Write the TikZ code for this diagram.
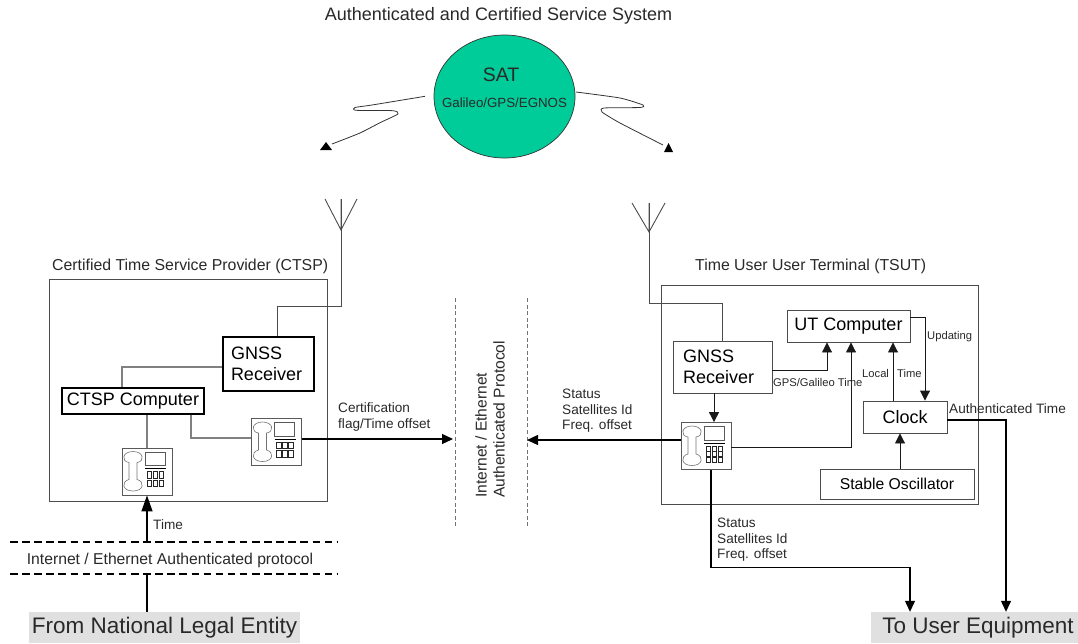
\documentclass[tikz,border=0pt]{standalone}
\usepackage{fontspec}
\setmainfont{Liberation Sans}
\usetikzlibrary{arrows.meta,shapes.geometric}
\definecolor{satgreen}{HTML}{00CC99}
\definecolor{ink}{gray}{0.16}
\tikzset{x=1pt,y=-1pt,
 lbl/.style={inner sep=0pt,font=\fontsize{13.6}{15.4}\selectfont,text=ink,align=left},
 small/.style={inner sep=0pt,font=\fontsize{11.2}{13}\selectfont,text=ink,align=left},
 head/.style={inner sep=0pt,font=\fontsize{15.85}{19}\selectfont,text=ink},
 boxtext/.style={font=\fontsize{18}{21.5}\selectfont,text=black},
 frame/.style={draw=black!70,line width=1pt,inner sep=0pt},
 boxthin/.style={draw=black!70,line width=0.9pt,inner sep=0pt,boxtext},
 boxthick/.style={draw=black,line width=1.5pt,inner sep=0pt,boxtext},
 phonebox/.style={draw=black!65,line width=0.8pt,inner sep=0pt,minimum width=50pt,minimum height=47pt},
 wire/.style={draw=black!70,line width=0.9pt},
 gwire/.style={draw=black!50,line width=1.1pt},
 flow/.style={draw=black,line width=1.2pt,-{Triangle[length=11pt,width=10pt]}},
 bigflow/.style={draw=black,line width=1.2pt,-{Triangle[length=16pt,width=11pt]}},
 thinflow/.style={draw=black!90,line width=0.9pt,-{Triangle[length=10pt,width=10pt]}},
 solidline/.style={draw=black,line width=1.2pt},
 greybar/.style={fill=black!12,inner sep=0pt,minimum height=31pt,font=\fontsize{22.5}{25}\selectfont,text=ink},
 protodash/.style={draw=black!55,line width=1pt,dash pattern=on 4pt off 2.6pt},
 netdash/.style={draw=black,line width=1.2pt,dash pattern=on 7.5pt off 4.6pt},
 air/.style={draw=black!80,line width=0.8pt}
}
\newcommand{\phoneart}[3]{%
 \begin{scope}[shift={(#1.center)}]
  \draw[black!55,line width=0.6pt] (-14,-20) .. controls (-25,-20) and (-26,-10) .. (-18,-9)
    -- (-18,8) .. controls (-26,10) and (-25,19.5) .. (-14,19.5)
    .. controls (-3,19.5) and (-2,10) .. (-10,8) -- (-10,-9) .. controls (-2,-10) and (-3,-20) .. (-14,-20) -- cycle;
  \draw[black!65,line width=0.6pt] (-2,-19.5) rectangle (18,-6);
  \draw[black,line width=1pt] (-2,-3) -- (19,-3);
  \foreach \cx in {0,6,12}{\foreach \cy in {#2}{\draw[black!85,line width=0.55pt] (\cx,\cy) rectangle ++(4.7,#3);}}
 \end{scope}}
\begin{document}
\begin{tikzpicture}
\useasboundingbox (0,0) rectangle (1078,643);
% satellite
\node[inner sep=0pt,font=\fontsize{18}{21}\selectfont,text=ink] (title) at (498.5,16) {Authenticated and Certified Service System};
\node[draw=black!80,fill=satgreen,line width=0.7pt,ellipse,inner sep=0pt,minimum width=141pt,minimum height=123pt] (sat) at (504.5,96.5) {};
\node[inner sep=0pt,font=\fontsize{19.5}{22}\selectfont,text=ink] (sattitle) at (501,75) {SAT};
\node[inner sep=0pt,font=\fontsize{13.3}{15}\selectfont,text=ink] (satsub) at (504.5,103) {Galileo/GPS/EGNOS};
% radio links
\draw[air] plot[smooth,tension=0.35] coordinates {(425,96.3) (372,105) (355,107.5) (356,110.3) (393,110.7) (398,114) (380,122.7) (360,133) (332,144)};
\fill[black] (326,142) -- (332,150) -- (320,150) -- cycle;
\draw[air] plot[smooth,tension=0.35] coordinates {(576,92) (620,98) (643,105) (640,107.5) (604,108) (602,112) (620,123) (663,145)};
\fill[black] (668.5,143) -- (673,152) -- (664,152) -- cycle;
% antennas
\coordinate (antL) at (341,230); \coordinate (antLm) at (341,199);
\coordinate (antLa) at (325,199); \coordinate (antLb) at (357,199); \coordinate (antLc) at (341,306);
\coordinate (antR) at (649,232); \coordinate (antRm) at (649,203);
\coordinate (antRa) at (632,203); \coordinate (antRb) at (665,203); \coordinate (antRc) at (649,303);
\draw[wire] (antLa) -- (antL) -- (antLb) (antLm) -- (antL);
\draw[wire] (antRa) -- (antR) -- (antRb) (antRm) -- (antR);
% frames
\node[frame,minimum width=278pt,minimum height=222pt] (ctsp) at (188,390) {};
\node[frame,minimum width=317pt,minimum height=219pt] (tsut) at (819.5,394.5) {};
\node[head,anchor=west] (ctsplabel) at (52,266) {Certified Time Service Provider (CTSP)};
\node[head,anchor=west] (tsutlabel) at (695,266) {Time User User Terminal (TSUT)};
% left terminal
\node[boxthick,minimum height=54pt,text width=75pt,inner xsep=8pt,align=left] (gnssL) at (268.5,364) {GNSS\\Receiver};
\node[boxthick,minimum width=142pt,minimum height=26pt] (ctspC) at (133,401) {CTSP Computer};
\node[phonebox] (ph1) at (147,471.5) {};
\node[phonebox] (ph2) at (276.5,442) {};
\phoneart{ph1}{0,8.5}{6.3}
\phoneart{ph2}{0,8.5}{6.3}
% right terminal
\node[boxthin,minimum height=52pt,text width=79pt,inner xsep=10pt,align=left] (gnssR) at (722.5,367) {GNSS\\Receiver};
\node[phonebox] (phR) at (706,446) {};
\phoneart{phR}{0,5.5,11}{4.8}
\node[boxthin,minimum width=123pt,minimum height=32pt] (utc) at (848.5,326) {\raisebox{3pt}{UT Computer}};
\node[boxthin,minimum width=84pt,minimum height=32pt] (clock) at (905,417) {Clock};
\node[boxthin,minimum width=154pt,minimum height=30pt,font=\fontsize{15.7}{18}\selectfont] (osc) at (897,484) {Stable Oscillator};
% protocol band
\coordinate (d1t) at (455,298); \coordinate (d1b) at (455,526);
\coordinate (d2t) at (527,298); \coordinate (d2b) at (527,526);
\draw[protodash] (d1t) -- (d1b);
\draw[protodash] (d2t) -- (d2b);
\node[inner sep=0pt,font=\fontsize{15.6}{18}\selectfont,text=ink,align=left,rotate=90,anchor=west] (proto) at (490,498) {Internet / Ethernet\\Authenticated Protocol};
% bottom band
\coordinate (n1a) at (10,542); \coordinate (n1b) at (337,542);
\coordinate (n2a) at (10,574); \coordinate (n2b) at (337,574);
\node[inner sep=0pt,font=\fontsize{15.7}{18}\selectfont,text=ink] (netlabel) at (170,560) {Internet / Ethernet Authenticated protocol};
\draw[netdash] (n1a) -- (n1b);
\draw[netdash] (n2a) -- (n2b);
\node[greybar,minimum width=271pt] (from) at (164.5,627.5) {From National Legal Entity};
\node[greybar,minimum width=207pt] (to) at (974.5,627.5) {\hspace*{7pt}To User Equipment};
% connectors left
\draw[wire] (antLm) -- (antLc) -| ([xshift=8.5pt]gnssL.north);
\draw[gwire] ([yshift=-3pt]gnssL.west) -| ([xshift=-11pt]ctspC.north);
\draw[gwire] (ctspC.south -| ph1.north) -- (ph1.north);
\draw[gwire] ([xshift=58pt]ctspC.south) |- ([yshift=4pt]ph2.west);
\coordinate (certstart) at ([yshift=3pt]ph2.east);
\draw[flow,shorten >=2pt] (certstart) -- (certstart -| d1t);
\draw[bigflow] (ph1.south |- n1a) -- (ph1.south);
\draw[solidline] (ph1.south |- n2a) -- (ph1.south |- from.north);
% connectors right
\draw[wire] (antRm) -- (antRc) -| (gnssR.north);
\coordinate (statstart) at ([yshift=6pt]phR.west);
\draw[flow] (statstart) -- (statstart -| d2t);
\coordinate (c1) at ([xshift=8pt]phR.north);
\draw[thinflow] (c1 |- gnssR.south) -- (c1);
\draw[thinflow] ([yshift=-3pt]gnssR.east) -| ([xshift=-21.5pt]utc.south);
\draw[thinflow] ([yshift=-1pt]phR.east) -| ([xshift=2.5pt]utc.south);
\coordinate (c2) at ([xshift=-12pt]clock.north);
\draw[thinflow] (c2) -- (c2 |- utc.south);
\draw[thinflow] ([yshift=9pt]utc.east) -| ([xshift=20pt]clock.north);
\coordinate (c3) at ([xshift=-5pt]clock.south);
\draw[thinflow] (c3 |- osc.north) -- (c3);
\draw[flow] ([yshift=-3pt]clock.east) -| ([xshift=31.5pt]to.north);
\draw[flow] ([xshift=5pt]phR.south) |- ([xshift=-64.5pt,yshift=44pt]to.north) -- ([xshift=-64.5pt]to.north);
% labels
\node[lbl,anchor=west] (certlabel) at (338,417) {Certification\\flag/Time offset};
\node[lbl,anchor=west] (statlabelA) at (562,411) {Status\\Satellites Id\\Freq. offset};
\node[lbl,anchor=west] (statlabelB) at (717,540) {Status\\Satellites Id\\Freq. offset};
\node[lbl,anchor=west] (timelabel) at (153,525) {Time};
\node[small,anchor=west] (updlabel) at (927,337) {Updating};
\node[small,anchor=west] (gpslabel) at (773,382) {GPS/Galileo Time};
\node[small,anchor=west] (locallabel) at (862,373) {Local};
\node[small,anchor=west] (loctimelabel) at (897,373) {Time};
\node[lbl,anchor=west] (authlabel) at (949,409) {Authenticated Time};
\end{tikzpicture}
\end{document}
